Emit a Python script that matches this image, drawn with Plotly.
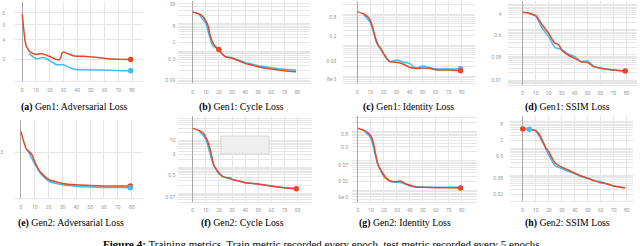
import math
import plotly.graph_objects as go

# ---------------- data ----------------
a_train_ep = [0, 1, 2, 3, 4, 5, 8, 10, 14, 18, 22, 25, 27, 28, 29, 30, 33, 38, 45, 55, 65, 79]
a_train = [5.89, 4.74, 3.98, 3.63, 3.51, 3.39, 3.26, 3.22, 3.26, 3.17, 3.07, 2.98, 2.98, 3.07, 3.29, 3.34, 3.26, 3.14, 3.13, 3.07, 3.0, 2.98]
a_test_ep = [5, 10, 15, 20, 25, 30, 35, 40, 45, 50, 55, 60, 65, 70, 75, 79]
a_test = [3.26, 3.02, 3.07, 2.94, 2.76, 2.76, 2.64, 2.56, 2.56, 2.55, 2.55, 2.54, 2.54, 2.53, 2.52, 2.52]

b_train_ep = [0, 5, 8, 10, 12, 13, 15, 17, 20, 22, 25, 30, 35, 40, 45, 50, 60, 70, 79]
b_train = [25.7, 21.8, 17.4, 12.5, 7.6, 4.36, 2.18, 1.52, 1.15, 0.83, 0.63, 0.55, 0.45, 0.36, 0.314, 0.273, 0.225, 0.196, 0.18]
b_test_ep = [5, 10, 15, 20, 25, 30, 35, 40, 45, 50, 55, 60, 65, 70, 75, 79]
b_test = [20.6, 10.0, 1.66, 1.09, 0.63, 0.58, 0.475, 0.39, 0.34, 0.297, 0.27, 0.251, 0.23, 0.219, 0.212, 0.207]

c_train_ep = [0, 5, 8, 10, 12, 14, 16, 18, 20, 23, 25, 30, 35, 40, 45, 50, 55, 60, 70, 79]
c_train = [1.22, 1.02, 0.838, 0.622, 0.352, 0.168, 0.102, 0.080, 0.055, 0.0353, 0.0297, 0.0282, 0.0249, 0.0195, 0.0181, 0.0185, 0.0181, 0.0164, 0.0160, 0.0152]
c_test_ep = [5, 10, 15, 20, 25, 30, 35, 40, 45, 50, 55, 60, 65, 70, 75, 79]
c_test = [0.973, 0.537, 0.116, 0.055, 0.0297, 0.0336, 0.0289, 0.0262, 0.0181, 0.0215, 0.0195, 0.0172, 0.0172, 0.0172, 0.0172, 0.0175]

d_train_ep = [0, 5, 10, 13, 15, 20, 23, 25, 28, 30, 35, 40, 45, 50, 55, 60, 70, 79]
d_train = [4.97, 4.54, 3.66, 2.31, 1.56, 0.725, 0.393, 0.290, 0.248, 0.157, 0.099, 0.0731, 0.0538, 0.0491, 0.0340, 0.0292, 0.0251, 0.0229]
d_test_ep = [5, 10, 15, 20, 25, 30, 35, 40, 45, 50, 55, 60, 65, 70, 75, 79]
d_test = [4.40, 3.55, 1.15, 0.533, 0.195, 0.167, 0.109, 0.0851, 0.0538, 0.0573, 0.0340, 0.0300, 0.027, 0.0251, 0.024, 0.0232]

e_train_ep = [0, 2, 4, 6, 8, 10, 13, 16, 20, 25, 30, 40, 50, 60, 70, 79]
e_train = [4.12, 3.54, 3.16, 3.05, 2.90, 2.62, 2.31, 2.15, 2.01, 1.94, 1.89, 1.85, 1.83, 1.82, 1.82, 1.82]
e_test_ep = [5, 10, 15, 20, 25, 30, 40, 50, 60, 70, 79]
e_test = [3.09, 2.53, 2.15, 1.96, 1.89, 1.85, 1.81, 1.79, 1.78, 1.775, 1.77]

f_train_ep = [0, 5, 8, 10, 12, 14, 16, 18, 20, 23, 25, 28, 30, 35, 40, 50, 60, 70, 79]
f_train = [29.5, 24.0, 19.1, 13.4, 7.94, 3.31, 1.19, 0.815, 0.609, 0.429, 0.404, 0.382, 0.340, 0.294, 0.254, 0.226, 0.189, 0.164, 0.150]
f_test_ep = [5, 10, 15, 20, 25, 30, 35, 40, 45, 50, 55, 60, 65, 70, 75, 79]
f_test = [22.7, 11.3, 1.60, 0.542, 0.393, 0.340, 0.294, 0.254, 0.24, 0.226, 0.205, 0.189, 0.175, 0.164, 0.158, 0.155]

g_train_ep = [0, 5, 8, 10, 12, 14, 16, 18, 20, 22, 25, 30, 33, 36, 40, 45, 50, 60, 70, 79]
g_train = [1.28, 1.06, 0.863, 0.700, 0.394, 0.139, 0.0634, 0.0463, 0.0330, 0.0254, 0.0206, 0.0196, 0.0206, 0.0172, 0.0147, 0.0126, 0.0126, 0.0122, 0.0122, 0.0119]
g_test_ep = [5, 10, 15, 20, 25, 30, 35, 40, 45, 50, 55, 60, 65, 70, 75, 79]
g_test = [1.01, 0.582, 0.0822, 0.0289, 0.0196, 0.0186, 0.0172, 0.0139, 0.0132, 0.0126, 0.0126, 0.0126, 0.0126, 0.0126, 0.0126, 0.0126]

h_train_ep = [0, 5, 10, 13, 15, 18, 20, 22, 25, 30, 35, 40, 45, 50, 55, 60, 65, 70, 75, 79]
h_train = [5.35, 5.20, 4.64, 3.19, 2.08, 1.02, 0.762, 0.496, 0.280, 0.199, 0.158, 0.119, 0.0942, 0.0771, 0.0631, 0.0531, 0.0474, 0.0399, 0.0356, 0.0346]
h_test_ep = [5, 10, 15, 20, 25, 30, 35, 40, 45, 50, 55, 60, 65, 70, 75, 78]
h_test = [5.20, 4.50, 1.80, 0.573, 0.222, 0.182, 0.137, 0.119, 0.0889, 0.0771, 0.0631, 0.0579, 0.0474, 0.0399, 0.0366, 0.0346]

x_ticks = [0, 10, 20, 30, 40, 50, 60, 70, 80]
a_yticks = [3, 4, 5, 6]
b_yticks = [0.09, 0.5, 2, 8, 50]
c_yticks = [0.008, 0.03, 0.2, 0.8]
c_ylabels = ["8e-3", "0.03", "0.2", "0.8"]
d_yticks = [0.01, 0.08, 0.6, 4]
e_yticks = [3]
f_yticks = [0.07, 0.5, 3, 10]
g_yticks = [0.006, 0.02, 0.07, 0.3, 0.8]
g_ylabels = ["6e-3", "0.02", "0.07", "0.3", "0.8"]
h_yticks = [0.02, 0.08, 0.5, 2, 8]

captions = ["(a)|Gen1: Adversarial Loss", "(b)|Gen1: Cycle Loss", "(c)|Gen1: Identity Loss",
            "(d)|Gen1: SSIM Loss", "(e)|Gen2: Adversarial Loss", "(f)|Gen2: Cycle Loss",
            "(g)|Gen2: Identity Loss", "(h)|Gen2: SSIM Loss"]
figure_caption = "Training metrics. Train metric recorded every epoch, test metric recorded every 5 epochs."

# ---------------- layout (pixel boxes) ----------------
W, H = 640, 246
RED = "#e2492a"
CYAN = "#3dbdf0"
GRID = "#e6e6e6"

def lbl(v):
    return "%g" % v

panels = [
    dict(tr=(a_train_ep, a_train), te=(a_test_ep, a_test), yt=a_yticks, yl=None,
         box=(15, 143, 2, 80.7), xr=(-5.3, 88.0), yr=(0.337, 0.848), minor=False,
         mk=[("tr", -1), ("te", -1)], ys=9, xs=4, cap=(74, 107)),
    dict(tr=(b_train_ep, b_train), te=(b_test_ep, b_test), yt=b_yticks, yl=None,
         box=(178.3, 310, 1, 83), xr=(-11.0, 89.7), yr=(-1.153, 1.807), minor=True,
         mk=[("tr", 8)], ys=2, xs=4, cap=(241, 107)),
    dict(tr=(c_train_ep, c_train), te=(c_test_ep, c_test), yt=c_yticks, yl=c_ylabels,
         box=(343.3, 475, 1, 83), xr=(-10.7, 90.1), yr=(-2.216, 0.429), minor=True,
         mk=[("te", -1), ("tr", -1)], ys=6, xs=4, cap=(408, 107)),
    dict(tr=(d_train_ep, d_train), te=(d_test_ep, d_test), yt=d_yticks, yl=None,
         box=(508.3, 636.7, 1, 85), xr=(-11.1, 87.8), yr=(-2.199, 1.148), minor=True,
         mk=[("tr", -1)], ys=6, xs=3, cap=(567, 107)),
    dict(tr=(e_train_ep, e_train), te=(e_test_ep, e_test), yt=e_yticks, yl=None,
         box=(15, 143.3, 120, 198), xr=(-4.3, 88.4), yr=(0.181, 0.691), minor=False,
         mk=[("tr", -1), ("te", -1)], ys=11, xs=4, cap=(71, 223)),
    dict(tr=(f_train_ep, f_train), te=(f_test_ep, f_test), yt=f_yticks, yl=None,
         box=(178.3, 311.7, 116, 201.7), xr=(-11.0, 90.7), yr=(-1.319, 1.939), minor=True,
         mk=[("tr", -1)], ys=2, xs=3, cap=(242, 223)),
    dict(tr=(g_train_ep, g_train), te=(g_test_ep, g_test), yt=g_yticks, yl=g_ylabels,
         box=(352, 476.7, 116, 201.7), xr=(-4.6, 91.5), yr=(-2.390, 0.525), minor=True,
         mk=[("tr", -1)], ys=3, xs=3, cap=(405, 223)),
    dict(tr=(h_train_ep, h_train), te=(h_test_ep, h_test), yt=h_yticks, yl=None,
         box=(510, 633.3, 116, 200.7), xr=(-9.8, 85.0), yr=(-1.948, 1.213), minor=True,
         mk=[("tr", 0), ("te", 0)], ys=6, xs=4, cap=(567, 223)),
]

fig = go.Figure()
layout = dict(width=W, height=H, autosize=False, margin=dict(l=0, r=0, t=0, b=0),
              paper_bgcolor="white", plot_bgcolor="white", showlegend=False)
annotations = []

for i, p in enumerate(panels):
    n = i + 1
    xa = "x" if n == 1 else "x%d" % n
    ya = "y" if n == 1 else "y%d" % n
    l, r, t, b = p["box"]
    lo, hi = p["yr"]
    if p["minor"]:
        gv = []
        for k in range(int(math.floor(lo)) - 1, int(math.ceil(hi)) + 1):
            for d in range(1, 10):
                v = d * 10 ** k
                if lo <= math.log10(v) <= hi:
                    gv.append(float("%.6g" % v))
        labels = p["yl"] if p["yl"] else [lbl(v) for v in p["yt"]]
        lab = {float("%.6g" % v): s for v, s in zip(p["yt"], labels)}
        tv = gv
        tt = [lab.get(v, "") for v in gv]
    else:
        tv = p["yt"]
        tt = [lbl(v) for v in p["yt"]]

    layout["xaxis" if n == 1 else "xaxis%d" % n] = dict(
        domain=[l / W, r / W], range=list(p["xr"]), anchor=ya,
        tickmode="array", tickvals=x_ticks, ticks="", ticklabelstandoff=p["xs"],
        tickfont=dict(family="Roboto", size=5, color="#9a9a9a"),
        showgrid=True, gridcolor=GRID, gridwidth=1,
        zeroline=True, zerolinecolor="#a8a8a8", zerolinewidth=1,
        showline=True, linecolor=GRID, linewidth=1, fixedrange=True)
    layout["yaxis" if n == 1 else "yaxis%d" % n] = dict(
        domain=[1 - b / H, 1 - t / H], type="log", range=list(p["yr"]), anchor=xa,
        tickmode="array", tickvals=tv, ticktext=tt, ticks="", ticklabelstandoff=p["ys"],
        tickfont=dict(family="Roboto", size=5, color="#9a9a9a"),
        showgrid=True, gridcolor=GRID, gridwidth=1, zeroline=False, showline=False,
        fixedrange=True)

    tx, ty = p["tr"]
    sx, sy = p["te"]
    fig.add_trace(go.Scatter(x=sx, y=sy, mode="lines", xaxis=xa, yaxis=ya,
                             line=dict(color=CYAN, width=1.5, shape="spline", smoothing=0.5),
                             hoverinfo="skip"))
    fig.add_trace(go.Scatter(x=tx, y=ty, mode="lines", xaxis=xa, yaxis=ya,
                             line=dict(color=RED, width=1.5, shape="spline", smoothing=0.5),
                             hoverinfo="skip"))
    for which, idx in p["mk"]:
        ex, ey, col = (tx, ty, RED) if which == "tr" else (sx, sy, CYAN)
        fig.add_trace(go.Scatter(x=[ex[idx]], y=[ey[idx]], mode="markers", xaxis=xa, yaxis=ya,
                                 marker=dict(color=col, size=5.5), hoverinfo="skip"))

    tag, text = captions[i].split("|")
    cx, cy = p["cap"]
    annotations.append(dict(x=cx / W, y=1 - cy / H, xref="paper", yref="paper",
                            text="<b>%s</b> %s" % (tag, text), showarrow=False,
                            xanchor="center", yanchor="middle",
                            font=dict(family="Liberation Serif", size=9.8, color="black")))

annotations.append(dict(x=323 / W, y=1 - 243.5 / H, xref="paper", yref="paper",
                        text="<b>Figure 4:</b> " + figure_caption, showarrow=False,
                        xanchor="center", yanchor="middle",
                        font=dict(family="Liberation Serif", size=11, color="black")))
layout["annotations"] = annotations
layout["shapes"] = [dict(type="rect", xref="paper", yref="paper",
                         x0=221 / W, x1=269 / W, y0=1 - 154 / H, y1=1 - 136 / H,
                         fillcolor="#efefef", line=dict(color="#d6d6d6", width=1), layer="above")]
fig.update_layout(**layout)
fig.write_html("out.html", config={"displayModeBar": False},
               post_script="document.body.style.margin='0';document.body.style.overflow='hidden';")
